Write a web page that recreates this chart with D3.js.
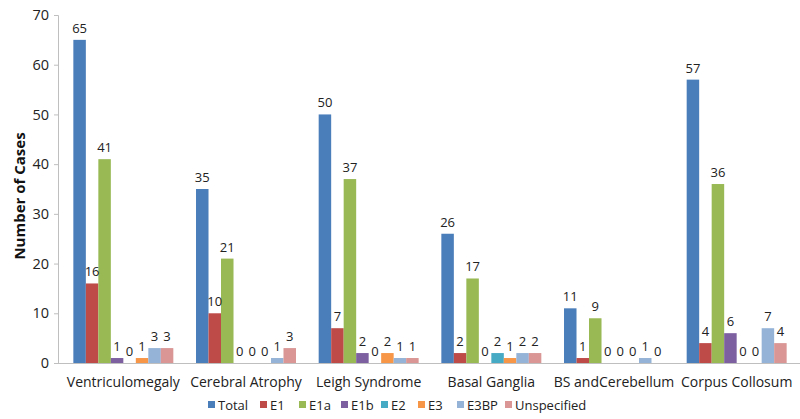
<!DOCTYPE html>
<html><head><meta charset="utf-8">
<script src="https://cdn.jsdelivr.net/npm/d3@7"></script>
<style>body{margin:0;background:#fff;}svg{display:block;font-family:"Open Sans",sans-serif;}</style>
</head><body>
<script>
const categories = ["Ventriculomegaly","Cerebral Atrophy","Leigh Syndrome","Basal Ganglia","BS andCerebellum","Corpus Collosum"];
const seriesNames = ["Total","E1","E1a","E1b","E2","E3","E3BP","Unspecified"];
const seriesColors = ["#4A7EBB","#BE4B48","#98B954","#7D60A0","#46AAC5","#F79646","#95B3D7","#D99694"];
const Total = [65,35,50,26,11,57];
const E1 = [16,10,7,2,1,4];
const E1a = [41,21,37,17,9,36];
const E1b = [1,0,2,0,0,6];
const E2 = [0,0,0,2,0,0];
const E3 = [1,0,2,1,0,0];
const E3BP = [3,1,1,2,1,7];
const Unspecified = [3,3,1,2,0,4];
const yTicks = [0,10,20,30,40,50,60,70];
const values = [Total,E1,E1a,E1b,E2,E3,E3BP,Unspecified];

const W=800,H=419;
const svg=d3.select("body").append("svg").attr("width",W).attr("height",H);
const y=d3.scaleLinear().domain([0,70]).range([363,15]);
const x0=d3.scaleBand().domain(categories).range([62,798]).paddingInner(0.185).paddingOuter(0.0925);
const x1=d3.scaleBand().domain(seriesNames).range([0,x0.bandwidth()]);

// y axis
const yAxis=svg.append("g").attr("transform","translate(58,0)")
  .call(d3.axisLeft(y).tickValues(yTicks).tickSize(4).tickPadding(5).tickFormat(d3.format("d")));
yAxis.select(".domain").attr("stroke","#BFBFBF").attr("d","M-4,15.5H0.5V363.5");
yAxis.selectAll(".tick line").attr("stroke","#BFBFBF");
yAxis.selectAll("text").attr("font-size",14.5).attr("fill","#222").attr("font-family","Open Sans");

// bars
const groups=svg.append("g").selectAll("g").data(categories).join("g")
  .attr("transform",d=>`translate(${x0(d)},0)`);
groups.selectAll("rect").data((c,ci)=>seriesNames.map((s,si)=>({s,si,v:values[si][ci]})))
  .join("rect")
  .attr("x",d=>x1(d.s)).attr("width",x1.bandwidth())
  .attr("y",d=>y(d.v)).attr("height",d=>y(0)-y(d.v))
  .attr("fill",d=>seriesColors[d.si]);
groups.selectAll("text").data((c,ci)=>seriesNames.map((s,si)=>({s,si,v:values[si][ci]})))
  .join("text")
  .attr("x",d=>x1(d.s)+x1.bandwidth()/2).attr("y",d=>y(d.v)-7)
  .attr("text-anchor","middle").attr("font-size",13).attr("fill","#222")
  .text(d=>d.v);

// x axis
svg.append("line").attr("x1",58).attr("x2",800).attr("y1",363.5).attr("y2",363.5).attr("stroke","#BFBFBF");
svg.append("g").selectAll("text").data(categories).join("text")
  .attr("x",d=>x0(d)+x0.bandwidth()/2).attr("y",387)
  .attr("text-anchor","middle").attr("font-size",14).attr("fill","#222").text(d=>d);

// y title
svg.append("text").attr("transform","translate(25,196) rotate(-90)")
  .attr("text-anchor","middle").attr("font-size",15).attr("font-weight","bold").attr("fill","#111")
  .text("Number of Cases");

// legend
const legendX=[208,260,299,341,381,418,457,505];
const lg=svg.append("g").selectAll("g").data(seriesNames).join("g")
  .attr("transform",(d,i)=>`translate(${legendX[i]},405)`);
lg.append("rect").attr("x",0).attr("y",-4).attr("width",7).attr("height",7).attr("fill",(d,i)=>seriesColors[i]);
lg.append("text").attr("x",10).attr("y",4.5).attr("font-size",13).attr("fill","#222").text(d=>d);
</script>
</body></html>
